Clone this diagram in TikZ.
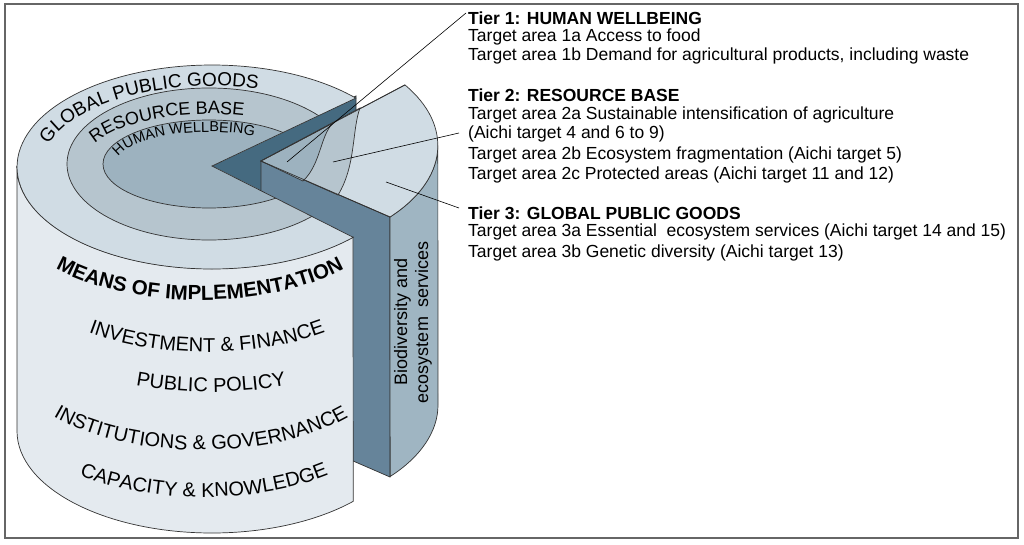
\documentclass[tikz,border=0pt]{standalone}
\usepackage{fontspec}
\setmainfont{Liberation Sans}
\usetikzlibrary{decorations.text}
\definecolor{ringO}{HTML}{D0DCE4}
\definecolor{ringM}{HTML}{B6C5CE}
\definecolor{ringI}{HTML}{9DB2BF}
\definecolor{side}{HTML}{E4EAEF}
\definecolor{darkf}{HTML}{456A80}
\definecolor{medf}{HTML}{66849A}
\definecolor{slicef}{HTML}{9FB5C2}
\definecolor{edge}{HTML}{333333}
\begin{document}
\begin{tikzpicture}[x=1pt,y=1pt,
  ln/.style={draw=edge,line width=0.7pt},
  lead/.style={draw=black,line width=0.6pt},
  tx/.style={anchor=west,inner sep=0pt,font=\fontsize{17.5}{18}\selectfont},
  txb/.style={tx,font=\fontsize{17.5}{18}\selectfont\bfseries}]
\useasboundingbox (0,0) rectangle (1024,544);
\draw[gray!80!black,line width=1.2pt] (5,6) rectangle (1018,540);
% back cut face
\fill[darkf] (212,378) -- (356,448) -- (356,144) -- (212,114) -- cycle;
\draw[ln] (212,378) -- (356,448) -- (356,144);
% slice: left face
\filldraw[fill=medf,ln] (261,383) -- (390,327) -- (390,67) -- (261,123) -- cycle;
% slice outer face
\filldraw[fill=slicef,ln] (390,327) arc[start angle=-41,end angle=0,x radius=195,y radius=109]
  -- (438,139) arc[start angle=0,end angle=-41,x radius=195,y radius=109] -- cycle;
% slice top
\filldraw[fill=ringO,ln] (261,383) -- (390,327) arc[start angle=-41,end angle=33.8,x radius=195,y radius=109] -- cycle;
\filldraw[fill=ringM,ln] (261,383) -- (360,436) .. controls (352,415) and (356,378) .. (338,349) -- cycle;
\filldraw[fill=ringI,ln] (261,383) -- (333,421) .. controls (320,408) and (321,380) .. (303,363) -- cycle;
\draw[ln] (261,383) -- (390,327);
\draw[ln] (261,383) -- (405,459);
% main body side
\filldraw[fill=side,ln] (17,377) -- (17,113) arc[start angle=180,end angle=316.4,x radius=195,y radius=102]
  -- (353,307) arc[start angle=316.4,end angle=180,x radius=195,y radius=102] -- cycle;
% main top sector
\begin{scope}
\clip (212,378) -- (355.8,445.9) arc[start angle=42.5,end angle=316.4,x radius=195,y radius=102] -- cycle;
\fill[ringO] (0,200) rectangle (420,500);
\filldraw[fill=ringM,ln] (209,380) ellipse[x radius=142,y radius=76];
\filldraw[fill=ringI,ln] (209,380) ellipse[x radius=106,y radius=44];
\end{scope}
\draw[ln] (212,378) -- (355.8,445.9) arc[start angle=42.5,end angle=316.4,x radius=195,y radius=102] -- cycle;
% ring texts
\path[decorate,decoration={text along path,text align=left,
  text={|\fontsize{19}{19}\selectfont|GLOBAL PUBLIC GOODS}}]
  (212,377) ++(164:170 and 81) arc[start angle=164,end angle=20,x radius=170,y radius=81];
\path[decorate,decoration={text along path,text align=left,
  text={|\fontsize{18}{18}\selectfont|RESOURCE BASE}}]
  (209,380) ++(156:125 and 50) arc[start angle=156,end angle=20,x radius=125,y radius=50];
\path[decorate,decoration={text along path,text align=left,
  text={|\fontsize{14.5}{15}\selectfont|HUMAN WELLBEING}}]
  (209,380) ++(167:93 and 32) arc[start angle=167,end angle=20,x radius=93,y radius=32];
% side texts
\path[decorate,decoration={text along path,text align=center,
  text={|\fontsize{20.5}{21}\selectfont\bfseries|MEANS OF IMPLEMENTATION}}]
  (200,334) ++(205:190 and 90) arc[start angle=205,end angle=335,x radius=190,y radius=90];
\path[decorate,decoration={text along path,text align=center,
  text={|\fontsize{20}{20}\selectfont|INVESTMENT {\&} FINANCE}}]
  (207,282) ++(205:190 and 90) arc[start angle=205,end angle=335,x radius=190,y radius=90];
\path[decorate,decoration={text along path,text align=center,
  text={|\fontsize{20}{20}\selectfont|PUBLIC POLICY}}]
  (211,232) ++(205:190 and 80) arc[start angle=205,end angle=335,x radius=190,y radius=80];
\path[decorate,decoration={text along path,text align=center,
  text={|\fontsize{20}{20}\selectfont|INSTITUTIONS {\&} GOVERNANCE}}]
  (201,184) ++(205:190 and 90) arc[start angle=205,end angle=335,x radius=190,y radius=90];
\path[decorate,decoration={text along path,text align=center,
  text={|\fontsize{20}{20}\selectfont|CAPACITY {\&} KNOWLEDGE}}]
  (204,137) ++(205:190 and 90) arc[start angle=205,end angle=335,x radius=190,y radius=90];
\node[rotate=90,align=center,inner sep=0pt,font=\fontsize{18}{21}\selectfont] (bio) at (413,222) {Biodiversity and\\ecosystem\ \ services};
% right texts
\node[txb] (t1) at (468,526) {Tier 1: HUMAN WELLBEING};
\node[tx] (t1a) at (468,507) {Target area 1a Access to food};
\node[tx] (t1b) at (468,488) {Target area 1b Demand for agricultural products, including waste};
\node[txb] (t2) at (468,449) {Tier 2: RESOURCE BASE};
\node[tx] (t2a) at (468,429) {Target area 2a Sustainable intensification of agriculture};
\node[tx] (t2a2) at (468,410) {(Aichi target 4 and 6 to 9)};
\node[tx] (t2b) at (468,389) {Target area 2b Ecosystem fragmentation (Aichi target 5)};
\node[tx] (t2c) at (468,369) {Target area 2c Protected areas (Aichi target 11 and 12)};
\node[txb] (t3) at (468,331) {Tier 3: GLOBAL PUBLIC GOODS};
\node[tx] (t3a) at (468,312) {Target area 3a Essential\ \ ecosystem services (Aichi target 14 and 15)};
\node[tx] (t3b) at (468,291) {Target area 3b Genetic diversity (Aichi target 13)};
% leaders
\coordinate (h1) at (466,531);
\coordinate (h2) at (287,382);
\coordinate (r1) at (459,411);
\coordinate (r2) at (333,382);
\coordinate (g1) at (459,336);
\coordinate (g2) at (386,362);
\draw[lead] (h1) -- (h2);
\draw[lead] (r1) -- (r2);
\draw[lead] (g1) -- (g2);
\end{tikzpicture}
\end{document}
